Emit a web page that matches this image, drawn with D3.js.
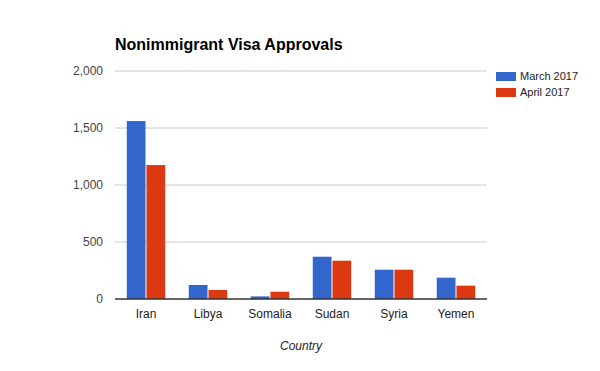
<!DOCTYPE html>
<html>
<head>
<meta charset="utf-8">
<script src="https://cdn.jsdelivr.net/npm/d3@7"></script>
<style>
  body { margin: 0; background: #fff; }
  text { font-family: Arial, "Liberation Sans", sans-serif; }
</style>
</head>
<body>
<svg id="chart" width="600" height="371"></svg>
<script>
const countries = ['Iran', 'Libya', 'Somalia', 'Sudan', 'Syria', 'Yemen']
const march2017 = [1561, 123, 23, 371, 257, 187]
const april2017 = [1175, 79, 64, 336, 257, 117]
const seriesNames = ['March 2017', 'April 2017']
const seriesColors = ['#3366cc', '#dc3912']
const yTicks = [0, 500, 1000, 1500, 2000]

const svg = d3.select('#chart')
const margin = { left: 115, right: 113, top: 71, bottom: 72 }
const width = 600 - margin.left - margin.right
const height = 371 - margin.top - margin.bottom

const g = svg.append('g').attr('transform', 'translate(' + margin.left + ',' + margin.top + ')')

const x = d3.scaleBand().domain(countries).range([0, width]).paddingInner(0.38).paddingOuter(0.19)
const xs = d3.scaleBand().domain(seriesNames).range([0, x.bandwidth()]).paddingInner(0.05)
const y = d3.scaleLinear().domain([0, 2000]).range([height, 0])

// gridlines
g.append('g')
  .selectAll('line')
  .data(yTicks.slice(1))
  .enter().append('line')
  .attr('x1', 0).attr('x2', width)
  .attr('y1', d => y(d)).attr('y2', d => y(d))
  .attr('stroke', '#cccccc')

// y axis labels
const yAxis = g.append('g')
  .call(d3.axisLeft(y).tickValues(yTicks).tickFormat(d3.format(',')).tickSize(0).tickPadding(12))
yAxis.select('.domain').remove()
yAxis.selectAll('text').attr('fill', '#444').style('font-size', '12px')

// bars
const rows = countries.map((c, i) => ({ country: c, values: [march2017[i], april2017[i]] }))
const groups = g.append('g').selectAll('g')
  .data(rows)
  .enter().append('g')
  .attr('transform', d => 'translate(' + x(d.country) + ',0)')

groups.selectAll('rect')
  .data(d => d.values.map((v, k) => ({ name: seriesNames[k], value: v, color: seriesColors[k] })))
  .enter().append('rect')
  .attr('x', d => xs(d.name))
  .attr('width', xs.bandwidth())
  .attr('y', d => y(d.value))
  .attr('height', d => height - y(d.value))
  .attr('fill', d => d.color)

// baseline
g.append('line')
  .attr('x1', 0).attr('x2', width)
  .attr('y1', y(0)).attr('y2', y(0))
  .attr('stroke', '#333')
  .attr('stroke-width', 1.5)

// x axis labels
const xAxis = g.append('g')
  .attr('transform', 'translate(0,' + height + ')')
  .call(d3.axisBottom(x).tickSize(0).tickPadding(10))
xAxis.select('.domain').remove()
xAxis.selectAll('text').attr('fill', '#222').style('font-size', '12px')

// axis title
svg.append('text')
  .attr('x', margin.left + width / 2)
  .attr('y', 350)
  .attr('text-anchor', 'middle')
  .style('font-size', '12px')
  .style('font-style', 'italic')
  .attr('fill', '#222')
  .text('Country')

// chart title
svg.append('text')
  .attr('x', 115)
  .attr('y', 50)
  .style('font-size', '16px')
  .style('font-weight', 'bold')
  .attr('fill', '#000')
  .text('Nonimmigrant Visa Approvals')

// legend
const legend = svg.append('g').attr('transform', 'translate(496,72)')
const items = legend.selectAll('g')
  .data(seriesNames)
  .enter().append('g')
  .attr('transform', (d, i) => 'translate(0,' + i * 16 + ')')
items.append('rect')
  .attr('width', 20).attr('height', 9)
  .attr('fill', (d, i) => seriesColors[i])
items.append('text')
  .attr('x', 24).attr('y', 8)
  .style('font-size', '11px')
  .attr('fill', '#222')
  .text(d => d)
</script>
</body>
</html>
